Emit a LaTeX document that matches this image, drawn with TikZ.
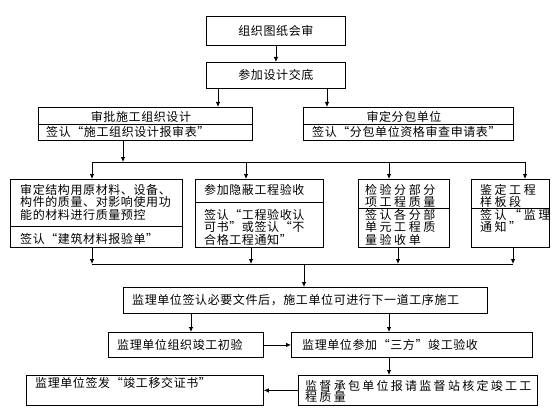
\documentclass[tikz,border=0pt]{standalone}
\usepackage{fontspec}
\usepackage{tikz}
\usetikzlibrary{arrows.meta}
\newfontfamily\cjk[LetterSpace=5]{Noto Sans CJK SC}
\newfontfamily\cjkwide[LetterSpace=21]{Noto Sans CJK SC}
\newfontfamily\cjkmid[LetterSpace=19]{Noto Sans CJK SC}

\tikzset{
    box/.style={draw, line width=0.8pt, anchor=north west, inner sep=0pt},
    txt/.style={anchor=north west, inner sep=0pt, align=left,
        font=\cjk\fontsize{12}{12.5}\selectfont},
    ctxt/.style={inner sep=0pt, font=\cjk\fontsize{12}{12.5}\selectfont},
    lbl/.style={anchor=west, inner sep=0pt, font=\cjk\fontsize{12}{12.5}\selectfont},
    arr/.style={line width=0.8pt, -{Latex[length=5pt,width=4.5pt]}},
    ln/.style={line width=0.8pt}
}
\newcommand\bx[5]{\node[box, minimum width=#4pt, minimum height=#5pt] (#1) at (#2,#3) {};}

\begin{document}
\begin{tikzpicture}[x=1pt,y=-1pt]

    \useasboundingbox (0,0) rectangle (560,420);

    % boxes
    \bx{b1}{206}{16}{139}{29}
    \bx{b2}{206}{62}{139}{26}
    \bx{b3}{38}{107}{214}{33}
    \bx{b4}{303}{107}{210}{33}
    \bx{b5}{10}{179}{172}{68}
    \bx{b6}{195}{179}{128}{68}
    \bx{b7}{358}{179}{91}{68}
    \bx{b8}{471}{179}{78}{68}
    \bx{b9}{123}{287}{364}{26}
    \bx{b10}{108}{332}{155}{25}
    \bx{b11}{291}{332}{241}{25}
    \bx{b12}{298}{375}{239}{30}
    \bx{b13}{26}{375}{237}{30}

    % dividers
    \draw[ln] (38,124) -- (252,124);
    \draw[ln] (303,124) -- (513,124);
    \draw[ln] (10,226) -- (182,226);
    \draw[ln] (195,202) -- (323,202);
    \draw[ln] (358,208) -- (449,208);
    \draw[ln] (471,208) -- (549,208);

    % texts
    \node[ctxt] (t1) at (b1) {组织图纸会审};
    \node[ctxt] (t2) at (b2) {参加设计交底};
    \node[ctxt] (t3) at (141,116.5) {审批施工组织设计};
    \node[lbl] (t3b) at (46,132) {签认“施工组织设计报审表”};
    \node[ctxt] (t4) at (404,116.5) {审定分包单位};
    \node[lbl] (t4b) at (312,132) {签认“分包单位资格审查申请表”};

    \node[txt] (t5) at (20,184) {审定结构用原材料、设备、\\构件的质量、对影响使用功\\能的材料进行质量预控};
    \node[lbl] (t5b) at (20,238.5) {签认“建筑材料报验单”};
    \node[lbl] (t6) at (204,190) {参加隐蔽工程验收};
    \node[txt] (t6b) at (204,209) {签认“工程验收认\\可书”或签认“不\\合格工程通知”};
    \node[txt, font=\cjkwide\fontsize{12}{12.5}\selectfont] (t7) at (365,184) {检验分部分\\项工程质量};
    \node[txt, font=\cjkwide\fontsize{12}{12.5}\selectfont] (t7b) at (365,209) {签认各分部\\单元工程质\\量验收单};
    \node[txt, font=\cjkwide\fontsize{12}{12.5}\selectfont] (t8) at (480,184) {鉴定工程\\样板段};
    \node[txt, font=\cjkwide\fontsize{12}{12.5}\selectfont] (t8b) at (480,209) {签认“监理\\通知”};

    \node[lbl] (t9) at (132,300) {监理单位签认必要文件后，施工单位可进行下一道工序施工};
    \node[lbl] (t10) at (117,344.5) {监理单位组织竣工初验};
    \node[lbl] (t11) at (302,344.5) {监理单位参加“三方”竣工验收};
    \node[txt, font=\cjkmid\fontsize{12}{11.5}\selectfont] (t12) at (305,380) {监督承包单位报请监督站核定竣工工\\程质量};
    \node[lbl] (t13) at (35,383) {监理单位签发“竣工移交证书”};

    % connectors
    \coordinate (xa) at (218,0);
    \coordinate (xb) at (327,0);
    \draw[arr] (b1) -- (b2);
    \draw[arr] (b2.south -| xa) -- (b3.north -| xa);
    \draw[arr] (b2.south -| xb) -- (b4.north -| xb);

    \coordinate (k0) at (123,162);
    \coordinate (k1) at (92,162);
    \coordinate (k2) at (246,162);
    \coordinate (k3) at (389,162);
    \coordinate (k4) at (525,162);
    \draw[arr] (b3.south -| k0) -- (k0);
    \draw[ln] (k1) -- (k4);
    \foreach \k/\b in {k1/b5,k2/b6,k3/b7,k4/b8}
        \draw[arr] (\k) -- (\b.north -| \k);

    \coordinate (m0) at (304,264);
    \coordinate (m1) at (92,264);
    \coordinate (m2) at (251,264);
    \coordinate (m3) at (398,264);
    \coordinate (m4) at (513,264);
    \foreach \m/\b in {m1/b5,m2/b6,m3/b7,m4/b8}
        \draw[arr] (\b.south -| \m) -- (\m);
    \draw[ln] (m1) -- (m4);
    \draw[arr] (m0) -- (b9.north -| m0);

    \coordinate (n1) at (191,0);
    \coordinate (n2) at (389,0);
    \draw[arr] (b9.south -| n1) -- (b10.north -| n1);
    \draw[arr] (b9.south -| n2) -- (b11.north -| n2);
    \draw[arr] (b10) -- (b11);
    \draw[arr] (b11.south -| n2) -- (b12.north -| n2);
    \draw[arr] (b12) -- (b13);
\end{tikzpicture}
\end{document}
